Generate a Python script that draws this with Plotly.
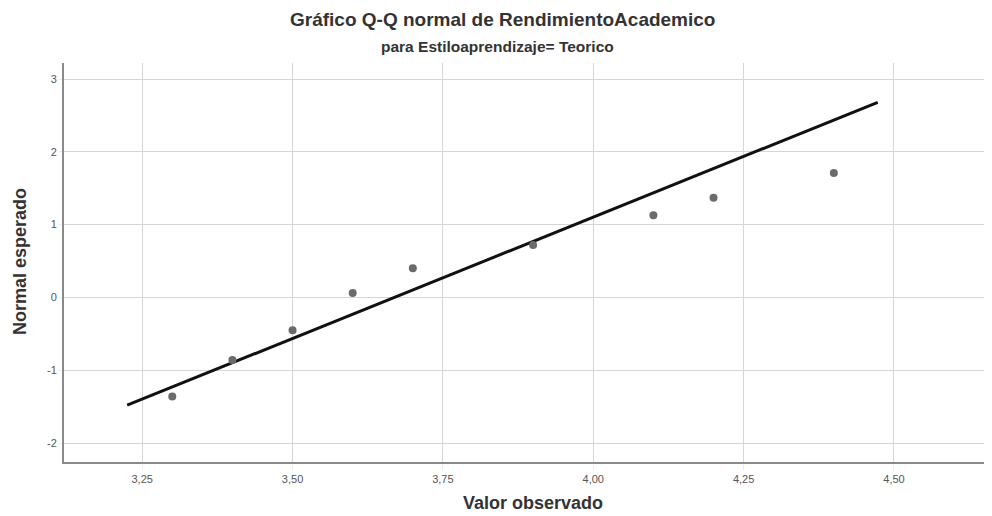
import plotly.graph_objects as go

observed = [3.30, 3.40, 3.50, 3.60, 3.70, 3.90, 4.10, 4.20, 4.40]
expected_normal = [-1.36, -0.86, -0.45, 0.06, 0.40, 0.72, 1.13, 1.37, 1.71]

# Reference line endpoints
line_x = [3.225, 4.473]
line_y = [-1.48, 2.68]

x_ticks = [3.25, 3.50, 3.75, 4.00, 4.25, 4.50]
x_ticklabels = ["3,25", "3,50", "3,75", "4,00", "4,25", "4,50"]
y_ticks = [-2, -1, 0, 1, 2, 3]
y_ticklabels = ["-2", "-1", "0", "1", "2", "3"]

title_text = "Gráfico Q-Q normal de RendimientoAcademico"
subtitle_text = "para Estiloaprendizaje= Teorico"
x_title = "Valor observado"
y_title = "Normal esperado"

# page offset (body margin) compensation
OFF = 8
W, H = 992 - OFF, 516 - OFF
ML, MR, MT, MB = 64 - OFF, 0, 63 - OFF, 54
PW, PH = W - ML - MR, H - MT - MB


def px_x(page_x):
    return (page_x - OFF - ML) / PW


def px_y(page_y):
    return (OFF + MT + PH - page_y) / PH


fig = go.Figure()
fig.add_trace(go.Scatter(
    x=line_x, y=line_y, mode="lines",
    line=dict(color="#111111", width=3), showlegend=False, hoverinfo="skip"))
fig.add_trace(go.Scatter(
    x=observed, y=expected_normal, mode="markers",
    marker=dict(color="#6b6b6b", size=8), showlegend=False))

fig.update_layout(
    width=W, height=H,
    margin=dict(l=ML, r=MR, t=MT, b=MB, autoexpand=False),
    paper_bgcolor="white", plot_bgcolor="white",
    font=dict(family="Liberation Sans, Arial, sans-serif", color="#222222"),
)

common = dict(xref="paper", yref="paper", showarrow=False,
              xanchor="center", yanchor="middle")
fig.add_annotation(text="<b>" + title_text + "</b>", x=px_x(502), y=px_y(19),
                   font=dict(size=19, color="#333333"), **common)
fig.add_annotation(text="<b>" + subtitle_text + "</b>", x=px_x(497), y=px_y(46),
                   font=dict(size=15.5, color="#333333"), **common)
fig.add_annotation(text="<b>" + x_title + "</b>", x=px_x(533), y=px_y(503),
                   font=dict(size=18, color="#333333"), **common)
fig.add_annotation(text="<b>" + y_title + "</b>", x=px_x(20), y=px_y(262),
                   textangle=-90, font=dict(size=18, color="#333333"), **common)

fig.update_xaxes(
    range=[3.120, 4.663], tickvals=x_ticks, ticktext=x_ticklabels,
    showgrid=True, gridcolor="#d6d6d6", gridwidth=1,
    showline=True, linecolor="#8a8a8a", linewidth=2,
    ticks="outside", ticklen=6, tickcolor="#eeeeee", tickfont=dict(size=11, color="#555555"),
    zeroline=False, automargin=False,
)
fig.update_yaxes(
    range=[-2.26, 3.22], tickvals=y_ticks, ticktext=y_ticklabels,
    showgrid=True, gridcolor="#d6d6d6", gridwidth=1,
    showline=True, linecolor="#8a8a8a", linewidth=2,
    ticks="outside", ticklen=3, tickcolor="#eeeeee", tickfont=dict(size=11, color="#555555"),
    zeroline=False, automargin=False,
)

fig.write_html("out.html")
